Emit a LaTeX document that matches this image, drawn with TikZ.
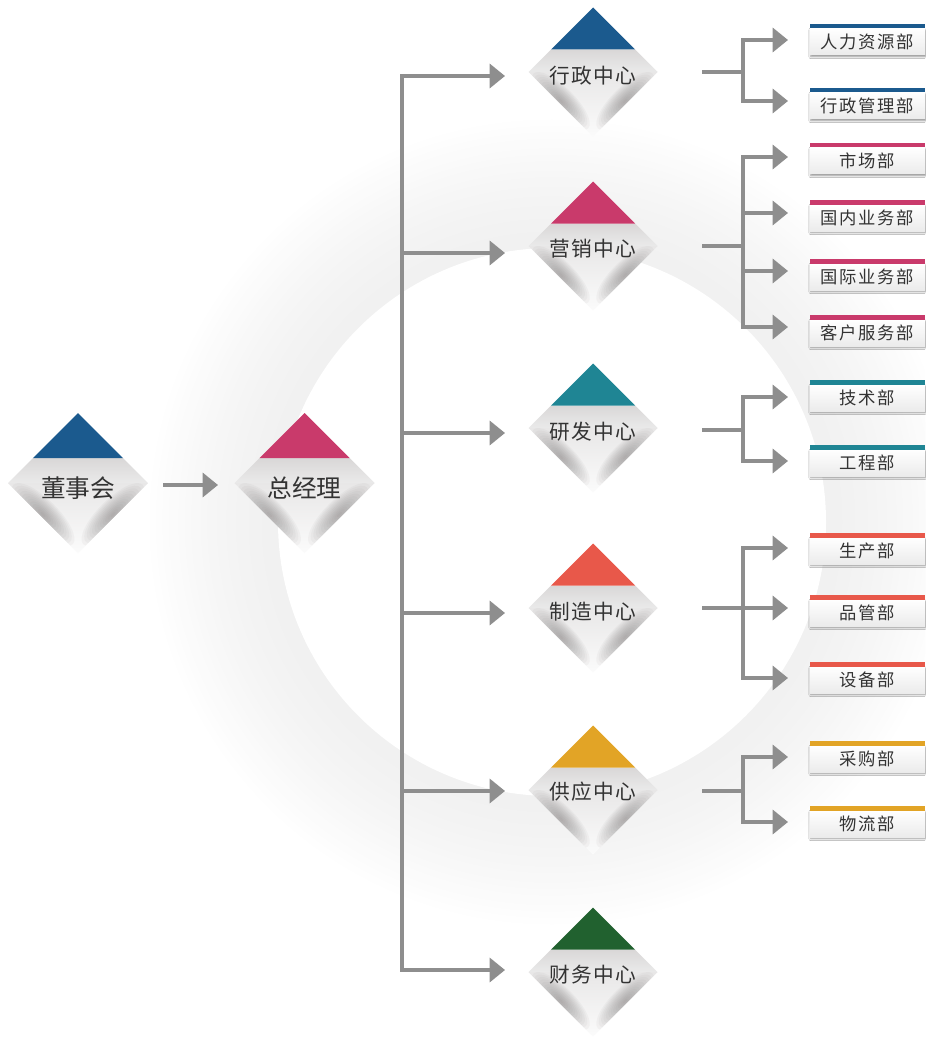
\documentclass[tikz,border=0pt]{standalone}
\usepackage{fontspec}
\newfontfamily\cjkA{Noto Sans CJK SC}
\newfontfamily\cjkB[LetterSpace=7]{Noto Sans CJK SC}
\newfontfamily\cjkC[LetterSpace=10]{Noto Sans CJK SC}
\usetikzlibrary{arrows.meta,shapes.geometric,shadows.blur,calc}
\definecolor{cBlue}{HTML}{1B5A8E}
\definecolor{cPink}{HTML}{C93A6B}
\definecolor{cTeal}{HTML}{1F8594}
\definecolor{cRed}{HTML}{E8584A}
\definecolor{cGold}{HTML}{E2A426}
\definecolor{cGreen}{HTML}{21612F}
\definecolor{lineGray}{HTML}{8E8E8E}
\definecolor{txt}{HTML}{333333}
\definecolor{ringA}{HTML}{F1F1F1}
\definecolor{du1}{HTML}{D9D7D7}
\definecolor{du2}{HTML}{EAEAEA}
\definecolor{dl1}{HTML}{E8E7E7}
\definecolor{dl5}{HTML}{FBFBFB}
\definecolor{dshd}{HTML}{6F6B6B}
\definecolor{bx2}{HTML}{EBEBEB}
\tikzset{
  ln/.style={draw=lineGray, line width=2.5pt},
  arr/.style={ln, -{Triangle[length=11.5pt,width=18pt]}},
  deptbox/.style={minimum width={115*0.75pt}, minimum height={26.5*0.75pt}, inner sep=0pt,
    top color=white, bottom color=bx2,
    blur shadow={shadow xshift=0.6pt, shadow yshift=-1.2pt, shadow blur radius=1.5pt, shadow opacity=45},
    font=\cjkC\fontsize{13}{15}\selectfont, text=txt}
}
% #1 name #2 x #3 y #4 half #5 band #6 color #7 font #8 text #9 text offset
\newcommand{\mkdia}[9]{%
  \node[diamond, aspect=1, minimum width={2*#4*0.75pt}, minimum height={2*#4*0.75pt}, inner sep=0pt] (#1) at (#2,#3) {};
  \begin{scope}[shift={(#2,#3)}]
    \shade[top color=du1, bottom color=du2] (-#5,-#4+#5) -- (#5,-#4+#5) -- (#4,0) -- (-#4,0) -- cycle;
    \shade[top color=dl1, bottom color=dl5] (-#4,0) -- (#4,0) -- (0,#4) -- cycle;
    \begin{scope}
      \clip (-#4,0) -- (#4,0) -- (0,#4) -- cycle;
      \begin{scope}[shift={({0.5*#4},{0.45*#4})}, rotate=45]
        \foreach \k in {1,...,12}{
          \fill[dshd, fill opacity=0.05] (0,0) ellipse [x radius={0.6*#4*\k/12}, y radius={0.21*#4*\k/12}];
        }
      \end{scope}
      \begin{scope}[shift={({-0.5*#4},{0.45*#4})}, rotate=-45]
        \foreach \k in {1,...,12}{
          \fill[dshd, fill opacity=0.05] (0,0) ellipse [x radius={0.6*#4*\k/12}, y radius={0.21*#4*\k/12}];
        }
      \end{scope}
    \end{scope}
    \fill[#6] (0,-#4) -- (#5,-#4+#5) -- (-#5,-#4+#5) -- cycle;
    \node[font={#7}, text=txt, inner sep=0pt] (#1-t) at (0,#9) {#8};
  \end{scope}
}
% #1 name #2 text y #3 arrow y #4 color #5 text
\newcommand{\mkdept}[5]{%
  \node[deptbox] (#1) at (867.5,#2-0.25) {#5};
  \fill[#4] (810,#2-18) rectangle (925,#2-13.5);
  \coordinate (#1-in) at (788,#3);
}
\newcommand{\ctrfont}{\cjkB\fontsize{15.5}{18}\selectfont}
\newcommand{\bigfont}{\cjkA\fontsize{18.5}{21}\selectfont}
\begin{document}
\begin{tikzpicture}[x=0.75pt,y=-0.75pt]
\useasboundingbox (0,0) rectangle (925,1038);
\fill[white] (0,0) rectangle (925,1038);
% background ring
\begin{scope}
  \clip (0,0) rectangle (925,1038);
  \foreach \i in {39,38,...,0}{
    \pgfmathsetmacro\pc{100*(1-(\i/40)^1.5)}
    \fill[ringA!\pc!white] (552,522) circle ({274+3.2*(\i+1)});
  }
  \fill[white] (552,522) circle (274);
\end{scope}
% diamonds
\mkdia{dsh}{78}{483}{70}{45}{cBlue}{\bigfont}{董事会}{5}
\mkdia{zjl}{304.5}{483}{70}{45}{cPink}{\bigfont}{总经理}{5}
\mkdia{xz}{593}{72}{64.5}{42}{cBlue}{\ctrfont}{行政中心}{4}
\mkdia{yx}{593}{246}{64.5}{42}{cPink}{\ctrfont}{营销中心}{3}
\mkdia{yf}{593}{428}{64.5}{42}{cTeal}{\ctrfont}{研发中心}{4}
\mkdia{zz}{593}{608}{64.5}{42}{cRed}{\ctrfont}{制造中心}{4}
\mkdia{gy}{593}{790}{64.5}{42}{cGold}{\ctrfont}{供应中心}{2}
\mkdia{cw}{593}{972}{64.5}{42}{cGreen}{\ctrfont}{财务中心}{3}
% departments
\mkdept{hr}{42}{40}{cBlue}{人力资源部}
\mkdept{xg}{106}{101}{cBlue}{行政管理部}
\mkdept{sc}{161}{157}{cPink}{市场部}
\mkdept{gn}{218}{213}{cPink}{国内业务部}
\mkdept{gj}{277}{271}{cPink}{国际业务部}
\mkdept{kf}{333}{327}{cPink}{客户服务部}
\mkdept{js}{398}{397}{cTeal}{技术部}
\mkdept{gc}{463}{461}{cTeal}{工程部}
\mkdept{sp}{551}{548}{cRed}{生产部}
\mkdept{pg}{613}{608}{cRed}{品管部}
\mkdept{sb}{680}{678}{cRed}{设备部}
\mkdept{cg}{759}{757}{cGold}{采购部}
\mkdept{wl}{824}{822}{cGold}{物流部}
% coordinates
\coordinate (dsh-out) at (163,485);
\coordinate (zjl-in) at (218,485);
\coordinate (t1) at (402,76);
\coordinate (t2) at (402,253);
\coordinate (t3) at (402,433);
\coordinate (t4) at (402,613);
\coordinate (t5) at (402,791);
\coordinate (t6) at (402,970);
\coordinate (xz-in) at (505,76);
\coordinate (yx-in) at (505,253);
\coordinate (yf-in) at (505,433);
\coordinate (zz-in) at (505,613);
\coordinate (gy-in) at (505,791);
\coordinate (cw-in) at (505,970);
\foreach \n/\y in {xz/72,yx/246,yf/430,zz/608,gy/791}{
  \coordinate (\n-out) at (702,\y);
  \coordinate (\n-j) at (743,\y);
}
% connectors
\draw[arr] (dsh-out) -- (zjl-in);
\draw[ln, {Triangle[length=11.5pt,width=18pt]}-{Triangle[length=11.5pt,width=18pt]}] (xz-in) -- (t1) -- (t6) -- (cw-in);
\draw[arr] (t2) -- (yx-in);
\draw[arr] (t3) -- (yf-in);
\draw[arr] (t4) -- (zz-in);
\draw[arr] (t5) -- (gy-in);
\foreach \n in {xz,yx,yf,zz,gy}{ \draw[ln] (\n-out) -- (\n-j); }
\foreach \c in {hr,xg}{ \draw[arr] (xz-j) |- (\c-in); }
\foreach \c in {sc,gn,gj,kf}{ \draw[arr] (yx-j) |- (\c-in); }
\foreach \c in {js,gc}{ \draw[arr] (yf-j) |- (\c-in); }
\foreach \c in {sp,pg,sb}{ \draw[arr] (zz-j) |- (\c-in); }
\foreach \c in {cg,wl}{ \draw[arr] (gy-j) |- (\c-in); }
\end{tikzpicture}
\end{document}
